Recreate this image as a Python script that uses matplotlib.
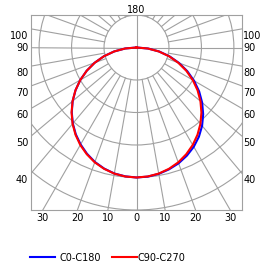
import matplotlib
matplotlib.use("Agg")
import matplotlib.pyplot as plt
import numpy as np
from matplotlib.patches import Circle
from matplotlib.lines import Line2D

# luminous intensity per gamma angle (deg from nadir), arbitrary units
gamma = [0, 5, 10, 15, 20, 25, 30, 35, 40, 45, 50, 55, 60, 65, 70, 75, 80, 85, 90]
c0 = [100, 99.7, 98.7, 97.0, 94.8, 91.8, 88.2, 83.8, 78.6, 72.6, 66.0, 58.9, 51.2, 43.2, 34.9, 26.4, 17.8, 9.0, 0]
c180 = [100, 99.5, 98.4, 96.4, 93.7, 90.2, 86.1, 81.5, 76.3, 70.5, 64.2, 57.3, 50.0, 42.3, 34.3, 26.0, 17.5, 8.8, 0]
c90 = [100, 99.6, 98.5, 96.6, 94.0, 90.6, 86.6, 81.9, 76.6, 70.7, 64.3, 57.4, 50.0, 42.3, 34.2, 25.9, 17.4, 8.7, 0]
c270 = [100, 99.6, 98.5, 96.6, 94.0, 90.6, 86.6, 81.9, 76.6, 70.7, 64.3, 57.4, 50.0, 42.3, 34.2, 25.9, 17.4, 8.7, 0]

rings = [25, 50, 75, 100, 125, 150, 175]
side_labels = [100, 90, 80, 70, 60, 50, 40]
bottom_labels = [30, 20, 10, 0]
legend_names = ["C0-C180", "C90-C270"]

grid_c = "#a0a0a0"
W, H = 275, 266
PX = 0.72  # points per pixel at 100 dpi

fig = plt.figure(figsize=(W / 100, H / 100), dpi=100)
ax = fig.add_axes([31 / W, 56 / H, 211 / W, 195 / H])
xmin, xmax, ymin, ymax = -81.25, 81.25, -125, 25
ax.set_xlim(xmin, xmax)
ax.set_ylim(ymin, ymax)
ax.set_xticks([])
ax.set_yticks([])
for sp in ax.spines.values():
    sp.set_color(grid_c)
    sp.set_linewidth(0.8)

# grid: rings and radial lines
for r in rings:
    ax.add_patch(Circle((0, 0), r, fill=False, ec=grid_c, lw=0.8))
for a in range(0, 360, 10):
    t = np.radians(a)
    r0 = 0 if a % 90 == 0 else rings[0]
    ax.plot([r0 * np.sin(t), 300 * np.sin(t)], [-r0 * np.cos(t), -300 * np.cos(t)],
            color=grid_c, lw=0.8)

# curves
g = np.radians(gamma)


def plane(left, right):
    left = np.asarray(left)
    right = np.asarray(right)
    x = np.concatenate([-left[::-1] * np.sin(g[::-1]), right * np.sin(g)])
    y = np.concatenate([-left[::-1] * np.cos(g[::-1]), -right * np.cos(g)])
    return x, y


x, y = plane(c180, c0)
ax.plot(x, y, color="#0000ff", lw=1.5)
x, y = plane(c270, c90)
ax.plot(x, y, color="#ff0000", lw=1.5)

# angle labels on the frame
fs = 7
for a in side_labels:
    t = np.radians(a)
    yi = -np.cos(t) * abs(xmin) / np.sin(t)
    dy = -2.6 if a == 90 else -7.1
    ax.annotate(str(a), (xmin, yi), xytext=(-2.7 * PX, dy), textcoords="offset points",
                ha="right", va="baseline", fontsize=fs, annotation_clip=False)
    ax.annotate(str(a), (xmax, yi), xytext=(1.3 * PX, dy), textcoords="offset points",
                ha="left", va="baseline", fontsize=fs, annotation_clip=False)
for a in bottom_labels:
    xi = np.tan(np.radians(a)) * abs(ymin)
    for s in ([1] if a == 0 else [-1, 1]):
        ax.annotate(str(a), (s * xi, ymin), xytext=(0, -10.8 * PX), textcoords="offset points",
                    ha="center", va="baseline", fontsize=fs, annotation_clip=False)
ax.annotate("180", (0, ymax), xytext=(0, 1.7 * PX), textcoords="offset points",
            ha="center", va="baseline", fontsize=fs, annotation_clip=False)

# legend
fig.add_artist(Line2D([30 / W, 55 / W], [8.7 / H, 8.7 / H], color="#0000ff", lw=1.5))
fig.text(59.5 / W, 5.2 / H, legend_names[0], fontsize=fs, ha="left", va="baseline")
fig.add_artist(Line2D([111.7 / W, 137.3 / W], [8.7 / H, 8.7 / H], color="#ff0000", lw=1.5))
fig.text(137.5 / W, 5.2 / H, legend_names[1], fontsize=fs, ha="left", va="baseline")

fig.savefig("out.png", dpi=100)
